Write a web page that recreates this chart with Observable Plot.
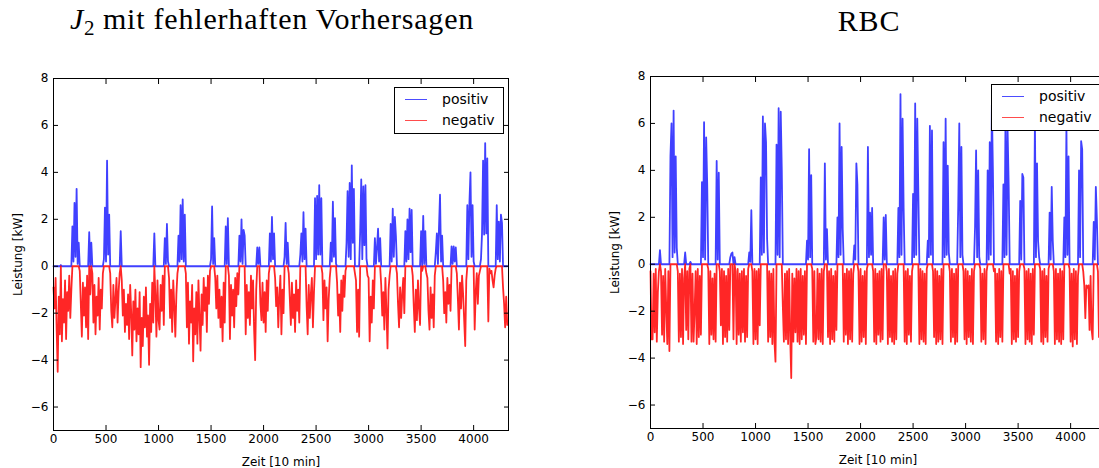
<!DOCTYPE html>
<html><head><meta charset="utf-8">
<script src="https://cdn.jsdelivr.net/npm/d3@7"></script>
<script src="https://cdn.jsdelivr.net/npm/@observablehq/plot@0.6"></script>
<style>
html,body{margin:0;padding:0;background:#fff;}
#root{position:relative;width:1099px;height:468px;overflow:hidden;background:#fff;}
.title{position:absolute;font-family:"Liberation Serif",serif;font-size:30px;line-height:30px;letter-spacing:0.8px;white-space:nowrap;color:#000;transform:translateX(-50%);}
.title .sub{font-size:21px;position:relative;top:6px;letter-spacing:0;}
.panel{position:absolute;top:0;}
.panel svg{max-width:none !important;}
.legend{position:absolute;background:#fff;border:1px solid #000;box-sizing:border-box;font-family:"DejaVu Sans",sans-serif;font-size:14px;color:#000;}
.legend .sw{position:absolute;left:10px;width:22px;height:0;border-top:1.2px solid;}
.legend .lb{position:absolute;left:47px;line-height:16px;white-space:nowrap;}
</style>
</head><body>
<div id="root"></div>
<script>
// ---- data ----
const STEP = 10; // sample spacing in [10 min]
const xTicks = [0, 500, 1000, 1500, 2000, 2500, 3000, 3500, 4000];
const yTicks = [-6, -4, -2, 0, 2, 4, 6, 8];
const seriesNames = ["positiv", "negativ"];
const seriesColors = ["#0000ff", "#ff0000"];
const panelTitles = ["mit fehlerhaften Vorhersagen", "RBC"];

// net power, J2 mit fehlerhaften Vorhersagen (one value every 10 steps)
const netJ2 = [
-0.9,-1.8,-0.5,-2.7,-4.5,-1.3,-2.9,0.05,-3.2,-1.4,
-2.4,-0.6,-3.1,-1.1,-1.9,-0.4,-2.2,-1.0,1.7,0.2,
2.7,0.4,3.3,0.1,1.0,-0.2,-1.6,-3.0,-0.7,-2.1,
-0.9,-2.6,-0.4,-3.1,1.45,-1.2,1.0,-0.3,-2.4,-0.8,
-2.9,-1.3,-2.1,-0.5,-2.7,-1.0,-1.8,-0.3,0.3,2.5,
0.2,4.5,0.5,2.2,-0.3,-1.9,-2.6,-0.8,-2.2,-1.4,
-0.5,-2.4,-1.1,-0.3,1.5,-0.6,-2.1,-1.0,-2.8,-1.6,
-2.5,-1.2,-3.1,-0.8,-2.0,-3.8,-1.5,-2.7,-1.0,-3.2,
-1.8,-2.9,-1.1,-4.3,-2.2,-3.4,-1.3,-2.6,-0.9,-3.0,
-2.1,-4.2,-1.6,-2.8,-0.7,-2.4,1.4,-1.2,-3.0,-0.6,
-2.3,-2.7,-0.8,-1.9,-0.4,-2.5,1.2,0.1,1.8,0.2,
-0.5,-2.2,-1.0,-2.8,-0.6,-1.7,-3.0,-1.2,-0.3,1.3,
0.2,2.6,0.3,2.85,0.2,2.2,-0.3,-2.6,-0.7,-3.3,
-1.5,-2.4,-0.8,-4.05,-1.8,-2.9,-1.1,-3.3,-0.6,-2.2,
-3.6,-1.2,-2.5,-0.5,-1.9,-0.9,-2.8,-0.4,-1.6,-0.2,
0.3,2.55,0.1,1.2,-0.5,-1.8,-0.4,-2.2,-1.0,-2.6,
-1.3,-3.2,-0.7,-2.4,1.7,0.1,2.05,-0.4,-3.1,-0.8,
-2.1,-1.0,-2.6,-0.5,-1.7,-0.3,-1.2,1.3,0.2,2.0,
0.1,1.55,1.3,-2.9,-0.8,-2.2,-1.1,-2.5,-0.4,-1.8,
-0.6,-2.7,-4.0,-1.0,0.8,0.1,0.8,-1.6,-2.3,-0.7,
-2.4,-1.1,-2.8,-0.6,-1.9,-0.3,1.4,0.2,2.1,0.3,
1.4,-0.5,-1.7,-0.9,-2.6,-1.3,-0.4,-2.9,-1.0,-2.0,
0.4,1.85,0.1,1.0,-0.3,-1.4,-2.5,-0.7,-2.2,-1.2,
-2.8,-0.6,-1.9,-1.0,-2.4,0.5,1.4,0.2,2.3,0.3,
1.6,-1.7,-2.9,-0.8,-2.2,-1.2,-0.5,-2.6,-1.1,2.9,
0.3,3.0,0.5,3.45,0.5,2.9,-0.3,-2.3,-0.6,-1.8,
-0.9,-3.2,-1.4,-0.5,1.0,0.2,2.75,0.4,2.05,0.1,
-0.7,-2.1,-1.2,-2.8,-0.6,-1.9,-0.4,-1.3,-0.2,1.0,
3.2,0.4,3.55,0.3,4.3,1.0,3.3,-0.3,-0.6,-2.8,
-1.0,-3.0,1.5,3.7,0.3,3.4,0.9,3.45,0.3,-0.4,
-0.5,-3.2,-1.3,-2.4,-0.6,-1.8,1.2,0.1,0.8,1.6,
0.2,1.2,-0.8,-2.1,-1.1,-2.7,-0.5,-1.9,-3.5,-1.0,
-0.4,1.8,0.2,2.45,0.4,2.1,1.3,-0.3,-1.6,-2.6,
-0.9,-2.2,-1.2,-0.5,-2.0,1.5,0.2,2.0,0.3,2.45,
0.6,2.4,-0.4,-1.7,-2.8,-1.0,-2.3,-0.6,-1.8,-2.5,
1.5,-0.2,2.15,0.1,1.5,-0.3,-0.5,-1.9,-2.7,-0.9,
-2.2,-1.2,-2.6,-0.4,0.6,1.4,0.1,1.6,3.05,0.2,
1.3,-0.6,-2.0,-1.1,-2.4,-0.5,-1.6,-0.8,-1.9,0.85,
0.1,0.85,0.2,0.8,-0.3,-1.4,-2.7,-0.7,-1.8,-0.4,
-1.2,-2.3,-3.4,-0.6,2.6,0.3,2.7,4.0,0.4,2.6,
0.2,-2.7,-1.1,-0.3,-1.6,-0.4,-0.2,0.3,1.4,4.5,
1.35,5.25,1.4,4.6,-2.35,-0.1,-0.3,-0.2,-0.6,-0.9,
-0.4,-0.1,2.6,0.3,1.9,0.2,2.2,1.85,-0.9,-1.6,
-2.6,-1.3,-2.5
];

// net power, RBC (one value every 10 steps)
const netRBC = [
-0.3,-3.2,-3.2,-0.4,-2.9,-0.2,-3.3,-1.2,-0.3,0.6,
-0.3,-3.0,-0.5,-3.3,-0.2,-1.9,-3.4,-0.3,-3.7,4.6,
6.0,0.3,6.55,0.5,4.6,0.7,-0.3,-3.3,-0.4,-3.1,
-0.2,-3.4,-0.6,0.5,-2.8,-0.3,-3.2,-0.2,0.1,-3.3,
-0.4,-3.3,-2.0,-0.3,-3.4,-0.2,-3.1,-0.5,-3.0,3.5,
0.3,6.05,0.2,5.4,3.4,-0.2,-3.4,-0.3,-3.0,-0.6,
-3.2,-0.4,-3.3,4.4,0.2,3.9,-0.3,-2.6,-0.2,-3.4,
-0.3,-3.1,-0.5,-3.3,-0.2,-2.8,0.3,0.45,0.5,-3.2,
0.3,-0.3,-3.4,-0.2,-3.0,-0.4,-3.3,-0.3,-2.9,-0.2,
-3.3,-0.5,-3.1,-0.2,0.5,0.1,2.3,-0.3,-3.4,-0.2,
-3.2,-0.3,-3.4,-0.2,-2.6,3.7,0.4,6.3,0.5,6.0,
5.2,1.1,-3.3,-0.3,-3.1,-0.4,-3.4,-0.2,-3.3,-4.15,
5.1,0.4,6.65,0.3,6.5,4.0,-1.8,-3.3,-0.4,-3.2,
-0.3,-3.4,-0.2,-3.1,-4.85,-0.4,-3.3,-0.6,-2.9,-0.2,
-3.3,-0.3,-3.4,-0.2,-3.2,-0.5,-3.0,-0.3,-3.4,1.0,
0.2,4.9,0.3,3.8,-0.2,-3.3,-0.3,-3.4,-3.1,-0.2,
-3.2,-0.4,-3.3,-0.2,-3.4,-0.3,4.3,0.2,1.5,-3.1,
-0.3,-3.4,-0.2,-3.2,-0.5,-3.3,-0.3,-2.8,2.0,0.3,
6.0,0.4,5.0,1.5,-3.3,-0.4,-3.0,-0.2,-3.4,-0.3,
-3.2,-0.2,-3.3,-0.4,0.8,0.2,4.3,3.4,-0.3,-3.4,
-0.2,-3.3,-0.5,-3.1,-0.3,-3.4,-0.2,5.0,0.3,2.2,
0.4,2.4,-0.3,-3.3,-0.2,-3.4,-0.4,-3.0,-0.3,-3.3,
-0.2,-3.2,2.0,0.2,2.1,-0.3,-3.4,-0.2,-3.1,-0.5,
-3.3,-0.3,-3.4,-0.2,-3.2,-0.4,2.4,0.3,7.25,0.4,
6.2,2.4,-3.3,-0.3,-3.4,-0.2,-3.0,-0.5,-3.3,-0.3,
3.0,0.3,6.85,0.4,6.2,3.1,-3.4,-0.2,-3.2,-0.3,
-3.3,-0.4,-3.4,-0.2,1.0,0.3,5.9,0.4,5.7,-0.3,
-3.1,-0.2,-3.4,-0.3,-3.3,-0.5,-3.2,-0.2,-3.4,5.2,
0.3,6.2,0.4,4.2,0.5,-0.3,-3.3,-0.2,-3.1,-0.4,
-3.4,-0.2,-3.3,2.5,6.0,0.3,5.0,0.4,-0.3,-3.2,
-0.2,-3.4,-0.3,-3.1,-0.5,-3.3,-0.2,-3.4,-0.3,1.6,
4.85,0.3,4.0,0.3,-0.2,-3.3,-0.4,-3.2,-0.2,-3.4,
-0.3,4.0,0.2,5.2,0.4,6.8,4.0,-0.3,-0.2,-3.3,
-0.4,-3.4,-0.2,-3.1,-0.3,-3.3,3.4,0.3,6.3,0.4,
5.7,3.4,-0.4,-0.2,-3.4,-0.3,-3.2,-0.5,-3.3,-0.2,
-3.1,-0.3,2.7,0.2,3.85,3.7,-0.2,-3.4,-0.3,-3.2,
-0.2,-3.3,-0.4,-3.4,-0.2,-3.0,6.1,0.3,4.3,1.0,
0.3,-0.2,-3.3,-0.3,-3.4,-0.2,-3.1,-0.5,-3.3,-0.2,
2.2,0.2,3.3,1.0,-0.3,-3.4,-0.2,-3.2,-0.4,-3.3,
-0.2,-3.4,-0.3,-3.2,2.0,0.3,5.9,0.4,4.6,-0.2,
-3.3,-0.4,-3.5,-0.2,-3.2,-0.3,-3.4,-0.5,4.0,0.3,
5.25,4.9,-0.3,-0.9,-2.3,-0.9,-1.0,-0.9,-2.8,-0.5,
-2.8,-3.2,1.8,0.2,3.3,1.9,-0.3,-3.1,-0.2,-2.9,
-0.4,-3.2,-0.3
];

// ---- rendering ----
const fmt = d => d < 0 ? "\u2212" + Math.abs(d) : String(d);
const blank = () => "";

function rows(net) {
  return net.map((v, i) => ({t: i * STEP, pos: v > 0 ? v : 0, neg: v < 0 ? v : 0}));
}

function panel(net, g) {
  const data = rows(net);
  return Plot.plot({
    width: g.width, height: g.height,
    marginLeft: g.ml, marginRight: g.mr, marginTop: g.mt, marginBottom: g.mb,
    x: {domain: [0, 4332]},
    y: {domain: [-7, 8]},
    style: {fontFamily: "'DejaVu Sans', sans-serif", fontSize: "12px", color: "#000", background: "transparent", overflow: "visible", maxWidth: "none"},
    marks: [
      Plot.lineY(data, {x: "t", y: "pos", stroke: seriesColors[0], strokeOpacity: 0.75, strokeWidth: 1.8}),
      Plot.lineY(data, {x: "t", y: "neg", stroke: seriesColors[1], strokeOpacity: 0.85, strokeWidth: 1.8}),
      Plot.axisX(xTicks, {anchor: "bottom", tickSize: 0, tickPadding: 4, tickFormat: fmt,
        label: "Zeit [10 min]", labelAnchor: "center", labelArrow: "none", labelOffset: 35}),
      Plot.axisX(xTicks, {anchor: "bottom", tickSize: -5, tickFormat: blank, label: null}),
      Plot.axisX(xTicks, {anchor: "top", tickSize: -5, tickFormat: blank, label: null}),
      Plot.axisY(yTicks, {anchor: "left", tickSize: 0, tickPadding: 5, tickFormat: fmt,
        label: "Leistung [kW]", labelAnchor: "center", labelArrow: "none", labelOffset: g.lo}),
      Plot.axisY(yTicks, {anchor: "left", tickSize: -5, tickFormat: blank, label: null}),
      Plot.axisY(yTicks, {anchor: "right", tickSize: -5, tickFormat: blank, label: null}),
      Plot.frame({stroke: "#000", strokeWidth: 1})
    ]
  });
}

const root = document.getElementById("root");

function addPanel(net, left, g) {
  const wrap = document.createElement("div");
  wrap.className = "panel";
  wrap.style.left = left + "px";
  wrap.style.width = g.width + "px";
  wrap.appendChild(panel(net, g));
  root.appendChild(wrap);
}

function addLegend(left, top) {
  const lg = document.createElement("div");
  lg.className = "legend";
  Object.assign(lg.style, {left: left + "px", top: top + "px", width: "110px", height: "47px"});
  seriesNames.forEach((name, i) => {
    const sw = document.createElement("div");
    sw.className = "sw";
    sw.style.top = (11 + i * 21) + "px";
    sw.style.borderTopColor = seriesColors[i];
    sw.style.opacity = 0.7;
    const lb = document.createElement("div");
    lb.className = "lb";
    lb.style.top = (3 + i * 21) + "px";
    lb.textContent = name;
    lg.appendChild(sw); lg.appendChild(lb);
  });
  root.appendChild(lg);
}

function addTitle(html, cx, top) {
  const t = document.createElement("div");
  t.className = "title";
  t.style.left = cx + "px";
  t.style.top = top + "px";
  t.innerHTML = html;
  root.appendChild(t);
}

addPanel(netJ2, 0, {width: 549, height: 468, ml: 53, mr: 41, mt: 78, mb: 38, lo: 40});
addPanel(netRBC, 549, {width: 600, height: 468, ml: 101, mr: 44, mt: 76, mb: 40, lo: 40});
addLegend(394, 87);
addLegend(991, 84);
addTitle('<i>J</i><span class="sub">2</span> ' + panelTitles[0], 272, 4);
addTitle(panelTitles[1], 869, 6);
</script>
</body></html>
